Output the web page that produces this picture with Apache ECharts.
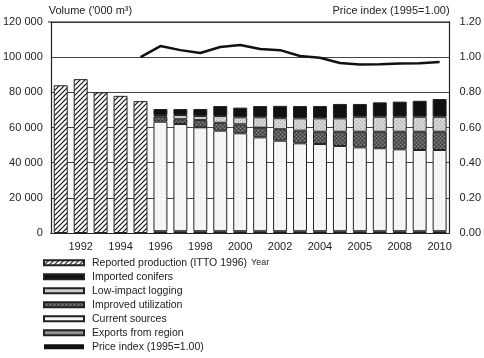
<!DOCTYPE html>
<html><head><meta charset="utf-8">
<script src="https://cdn.jsdelivr.net/npm/echarts@6/dist/echarts.min.js"></script>
<style>html,body{margin:0;padding:0;background:#fff}#c{width:484px;height:358px}</style>
</head><body><div id="c"></div>
<script>
var years = ['1991','1992','1993','1994','1995','1996','1997','1998','1999','2000','2001','2002','2003','2004','2005','2006','2007','2008','2009','2010'];
var tickLabels = ['','1992','','1994','','1996','','1998','','2000','','2002','','2004','','2005','','2008','','2010'];
var reported = [84000,87500,80000,78000,75000,null,null,null,null,null,null,null,null,null,null,null,null,null,null,null];
var exportsRegion = [null,null,null,null,null,1000,1000,1000,1000,1000,1000,1000,1000,1000,1000,1000,1000,1000,1000,1000];
var currentSources = [null,null,null,null,null,62300,61000,59100,57200,55700,53400,51500,50000,49600,48500,47700,47200,46600,46200,46200];
var improvedUtil = [null,null,null,null,null,2800,2700,4100,4500,5100,5500,6500,7200,7000,8100,8900,9400,10000,10400,10400];
var lowImpact = [null,null,null,null,null,1000,2400,2300,3800,4000,5900,6300,7000,7600,7600,8500,8500,8500,8500,8500];
var importedConifers = [null,null,null,null,null,3400,3400,4000,5700,5500,6400,7000,7000,7000,8200,7300,8200,8600,9100,10100];
var priceIndex = [null,null,null,null,1.00,1.063,1.04,1.024,1.058,1.069,1.046,1.04,1.007,0.997,0.967,0.958,0.96,0.964,0.966,0.972];

function pattern(kind){
  var c=document.createElement('canvas');
  var s = kind==='hatch'?5:4;
  c.width=s;c.height=s;
  var g=c.getContext('2d');
  if(kind==='hatch'){
    g.fillStyle='#fff';g.fillRect(0,0,s,s);
    g.strokeStyle='#111';g.lineWidth=1.2;
    g.beginPath();g.moveTo(-1,s+1);g.lineTo(s+1,-1);g.moveTo(-1,1);g.lineTo(1,-1);g.moveTo(s-1,s+1);g.lineTo(s+1,s-1);g.stroke();
  } else if(kind==='light'){
    g.fillStyle='#d2d2d2';g.fillRect(0,0,s,s);
    g.fillStyle='#b0b0b0';g.fillRect(0,0,1,1);g.fillRect(2,2,1,1);
  } else if(kind==='dark'){
    g.fillStyle='#5a5a5a';g.fillRect(0,0,s,s);
    g.fillStyle='#8a8a8a';g.fillRect(0,0,1,1);g.fillRect(2,2,1,1);
    g.fillStyle='#333';g.fillRect(2,0,1,1);g.fillRect(0,2,1,1);
  } else if(kind==='current'){
    g.fillStyle='#f6f6f6';g.fillRect(0,0,s,s);
    g.fillStyle='#e2e2e2';g.fillRect(1,1,1,1);
  } else if(kind==='exports'){
    g.fillStyle='#8c8c8c';g.fillRect(0,0,s,s);
    g.fillStyle='#bbb';g.fillRect(0,0,1,1);g.fillRect(2,2,1,1);
  }
  return {image:c,repeat:'repeat'};
}

var font = 'Liberation Sans';
var chart = echarts.init(document.getElementById('c'),null,{renderer:'canvas'});
var barCommon = {type:'bar',stack:'a',barWidth:'70%',yAxisIndex:0};
function bar(name,data,fill){
  return Object.assign({},barCommon,{name:name,data:data,itemStyle:{color:fill,borderColor:'#222',borderWidth:1}});
}
chart.setOption({
  animation:false,
  textStyle:{fontFamily:font,color:'#222'},
  grid:{left:48,right:34,top:22,bottom:125,show:false},
  legend:{
    orient:'vertical',left:43,top:257,padding:0,height:105,itemWidth:40,itemHeight:5,itemGap:2.5,
    textStyle:{fontFamily:font,fontSize:10.5,color:'#222',padding:[0,0,0,3],lineHeight:11.5},
    data:[
      {name:'Reported production (ITTO 1996)',icon:'rect'},
      {name:'Imported conifers',icon:'rect'},
      {name:'Low-impact logging',icon:'rect'},
      {name:'Improved utilization',icon:'rect'},
      {name:'Current sources',icon:'rect'},
      {name:'Exports from region',icon:'rect'},
      {name:'Price index (1995=1.00)',icon:'rect'}
    ]
  },
  xAxis:{
    type:'category',data:years,
    name:'Year',nameLocation:'middle',nameGap:25,
    nameTextStyle:{fontSize:9,color:'#222',padding:[0,0,0,20]},
    axisLine:{lineStyle:{color:'#222',width:1.2}},
    axisTick:{show:false},
    axisLabel:{interval:0,fontSize:11,color:'#222',margin:8,formatter:function(v,i){return tickLabels[i];}}
  },
  yAxis:[
    {type:'value',min:0,max:120000,interval:20000,
     name:"Volume ('000 m³)",nameLocation:'end',nameGap:6,
     nameTextStyle:{fontSize:11,color:'#222',align:'left',padding:[0,0,0,-2]},
     axisLine:{show:true,lineStyle:{color:'#222',width:1.2}},axisTick:{show:false},
     axisLabel:{fontSize:11,color:'#222',margin:8,formatter:function(v){return v===0?'0':String(v).replace(/\B(?=(\d{3})+(?!\d))/g,' ');}},
     splitLine:{show:true,lineStyle:{color:'#444',width:1}}},
    {type:'value',min:0,max:1.2,interval:0.2,
     name:'Price index (1995=1.00)',nameLocation:'end',nameGap:6,
     nameTextStyle:{fontSize:11,color:'#222',align:'right',padding:[0,0,0,0]},
     axisLine:{show:true,lineStyle:{color:'#222',width:1.2}},axisTick:{show:false},
     axisLabel:{fontSize:11,color:'#222',margin:10,formatter:function(v){return v.toFixed(2);}},
     splitLine:{show:false}}
  ],
  graphic:[{type:'line',shape:{x1:48,y1:22,x2:450,y2:22},style:{stroke:'#222',lineWidth:1.2},z:100}],
  series:[
    bar('Reported production (ITTO 1996)',reported,pattern('hatch')),
    bar('Exports from region',exportsRegion,pattern('exports')),
    bar('Current sources',currentSources,pattern('current')),
    bar('Improved utilization',improvedUtil,pattern('dark')),
    bar('Low-impact logging',lowImpact,pattern('light')),
    bar('Imported conifers',importedConifers,'#111'),
    {type:'line',name:'Price index (1995=1.00)',yAxisIndex:1,data:priceIndex,showSymbol:false,symbol:'none',
     lineStyle:{color:'#111',width:2.5},itemStyle:{color:'#111'},z:10}
  ]
});
</script></body></html>
